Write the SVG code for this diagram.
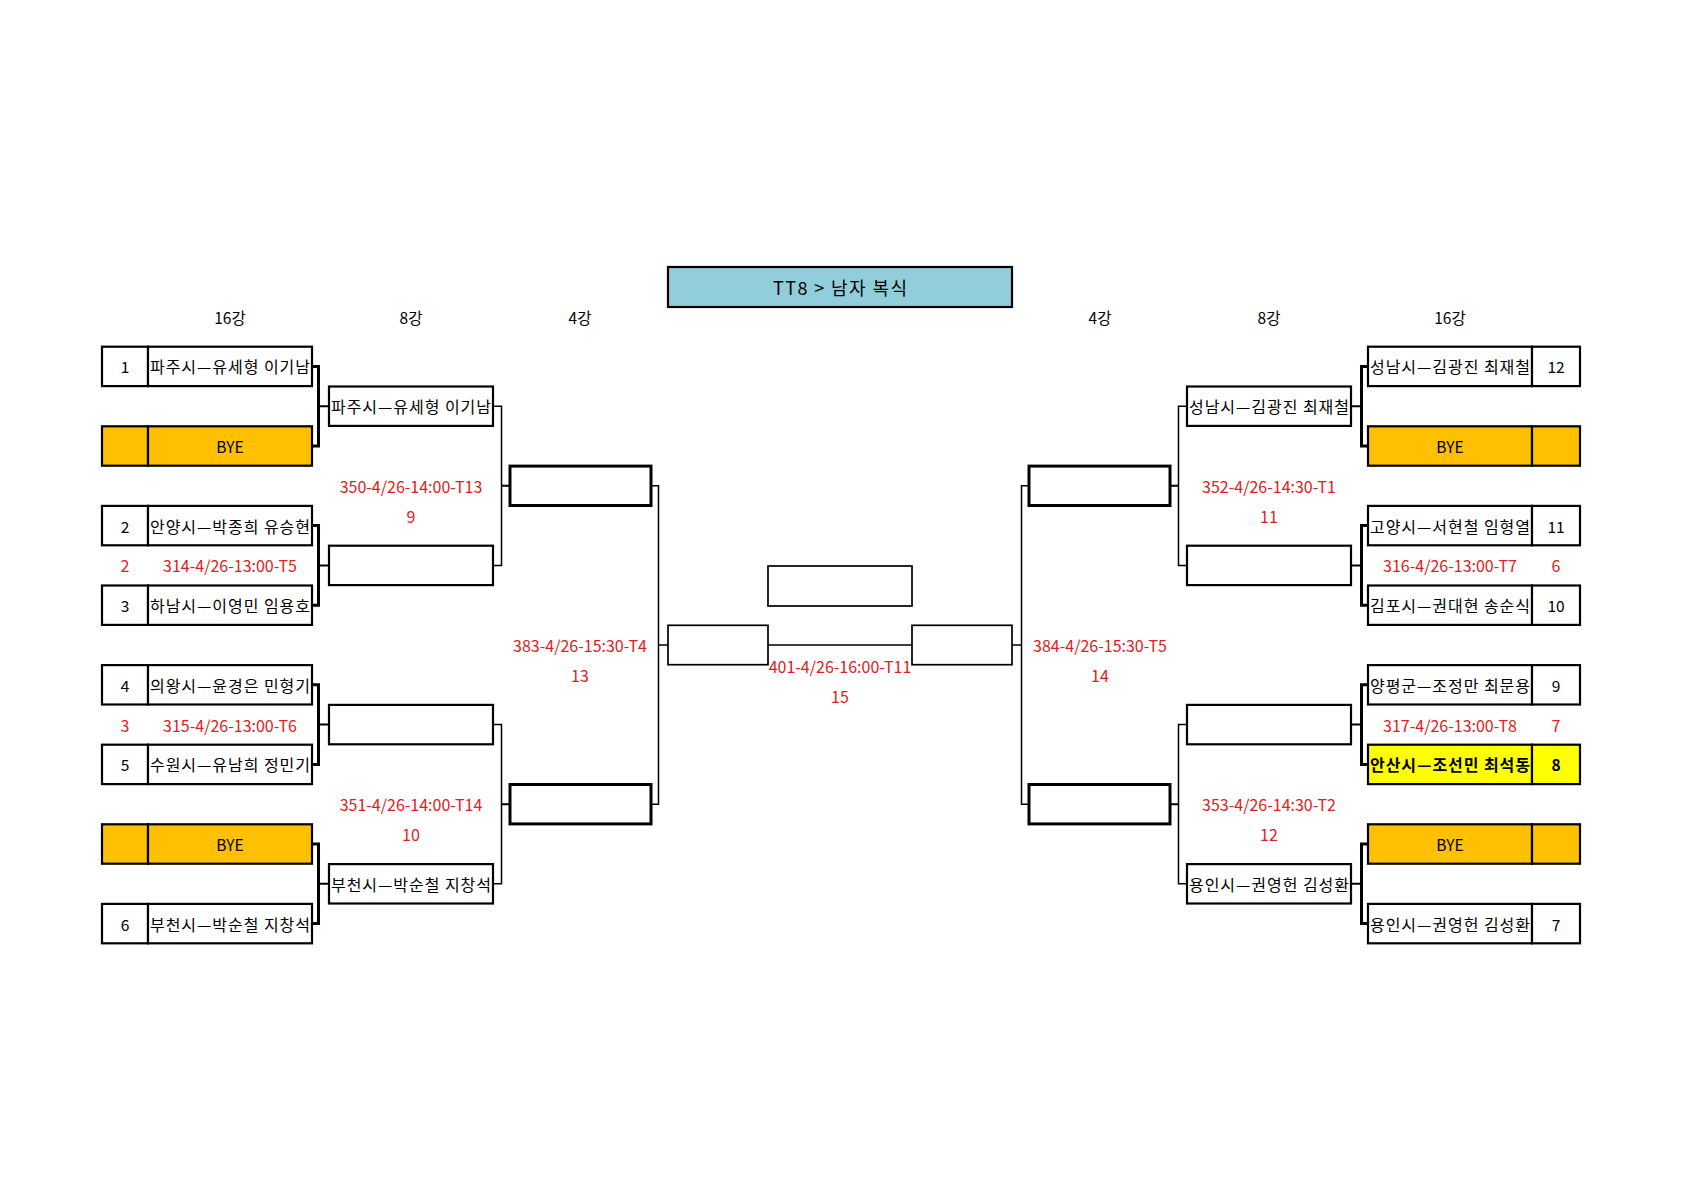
<svg xmlns="http://www.w3.org/2000/svg" width="1684" height="1190" viewBox="0 0 1684 1190">
<style>
.b{stroke:#000;stroke-width:2.2;fill:#fff}
.b3{stroke:#000;stroke-width:3;fill:#fff}
.b1{stroke:#000;stroke-width:1.7;fill:#fff}
.bye{fill:#FFC000}
.yel{fill:#FFFF00}
text{font-family:"Noto Sans CJK KR","Malgun Gothic",sans-serif;font-size:15.5px;fill:#000;text-anchor:middle;dominant-baseline:central}
.n{font-size:16px}
.r{fill:#E02020;font-size:16px}
.bold{font-weight:bold}
.c1{fill:none;stroke:#000;stroke-width:3}
.c2{fill:none;stroke:#000;stroke-width:1.5}
.c3{fill:none;stroke:#000;stroke-width:2}
</style>
<rect width="1684" height="1190" fill="#fff"/>

<g id="title">
<rect x="668" y="267" width="344" height="40" fill="#92CDDC" stroke="#000" stroke-width="2.2"/>
<text x="840" y="287" style="font-size:18px" textLength="134" lengthAdjust="spacing">TT8 &gt; 남자 복식</text>
</g>

<g id="headers">
<text x="230" y="317">16강</text>
<text x="411" y="317">8강</text>
<text x="580" y="317">4강</text>
<text x="1100" y="317">4강</text>
<text x="1269" y="317">8강</text>
<text x="1450" y="317">16강</text>
</g>

<g id="connectors">
<path class="c1" d="M312 366.4H318.5V446H312M312 525.6H318.5V605.2H312M312 684.8H318.5V764.4H312M312 844H318.5V923.6H312"/>
<path class="c3" d="M318.5 406.2H329M318.5 565.4H329M318.5 724.6H329M318.5 883.8H329"/>
<path class="c2" d="M493 406.2H501.5V565.4H493M493 724.6H501.5V883.8H493"/>
<path class="c3" d="M501.5 485.8H510M501.5 804.2H510"/>
<path class="c2" d="M651 485.8H658.5V804.2H651"/>
<path class="c2" d="M658.5 645H668M768 645H912M1012 645H1021.5"/>
<path class="c1" d="M1368 366.4H1361.5V446H1368M1368 525.6H1361.5V605.2H1368M1368 684.8H1361.5V764.4H1368M1368 844H1361.5V923.6H1368"/>
<path class="c3" d="M1361.5 406.2H1351M1361.5 565.4H1351M1361.5 724.6H1351M1361.5 883.8H1351"/>
<path class="c2" d="M1187 406.2H1178.5V565.4H1187M1187 724.6H1178.5V883.8H1187"/>
<path class="c3" d="M1178.5 485.8H1170M1178.5 804.2H1170"/>
<path class="c2" d="M1029 485.8H1021.5V804.2H1029"/>
</g>

<!-- Left round of 16 -->
<g id="L16-1"><rect class="b" x="102" y="346.7" width="46" height="39.4"/><rect class="b" x="148" y="346.7" width="164" height="39.4"/><text x="125" y="366.4">1</text><text class="n" x="230" y="366.4" textLength="160" lengthAdjust="spacing">파주시—유세형 이기남</text></g>
<g id="L16-bye1"><rect class="b bye" x="102" y="426.3" width="46" height="39.4"/><rect class="b bye" x="148" y="426.3" width="164" height="39.4"/><text x="230" y="446">BYE</text></g>
<g id="L16-2"><rect class="b" x="102" y="505.9" width="46" height="39.4"/><rect class="b" x="148" y="505.9" width="164" height="39.4"/><text x="125" y="525.6">2</text><text class="n" x="230" y="525.6" textLength="160" lengthAdjust="spacing">안양시—박종희 유승현</text></g>
<g id="L16-3"><rect class="b" x="102" y="585.5" width="46" height="39.4"/><rect class="b" x="148" y="585.5" width="164" height="39.4"/><text x="125" y="605.2">3</text><text class="n" x="230" y="605.2" textLength="160" lengthAdjust="spacing">하남시—이영민 임용호</text></g>
<g id="L16-4"><rect class="b" x="102" y="665.1" width="46" height="39.4"/><rect class="b" x="148" y="665.1" width="164" height="39.4"/><text x="125" y="684.8">4</text><text class="n" x="230" y="684.8" textLength="160" lengthAdjust="spacing">의왕시—윤경은 민형기</text></g>
<g id="L16-5"><rect class="b" x="102" y="744.7" width="46" height="39.4"/><rect class="b" x="148" y="744.7" width="164" height="39.4"/><text x="125" y="764.4">5</text><text class="n" x="230" y="764.4" textLength="160" lengthAdjust="spacing">수원시—유남희 정민기</text></g>
<g id="L16-bye2"><rect class="b bye" x="102" y="824.3" width="46" height="39.4"/><rect class="b bye" x="148" y="824.3" width="164" height="39.4"/><text x="230" y="844">BYE</text></g>
<g id="L16-6"><rect class="b" x="102" y="903.9" width="46" height="39.4"/><rect class="b" x="148" y="903.9" width="164" height="39.4"/><text x="125" y="923.6">6</text><text class="n" x="230" y="923.6" textLength="160" lengthAdjust="spacing">부천시—박순철 지창석</text></g>

<g id="L16-labels">
<text class="r" x="125" y="565.4">2</text><text class="r" x="230" y="565.4">314-4/26-13:00-T5</text>
<text class="r" x="125" y="724.6">3</text><text class="r" x="230" y="724.6">315-4/26-13:00-T6</text>
</g>

<!-- Left quarterfinal -->
<g id="L8-1"><rect class="b" x="329" y="386.5" width="164" height="39.4"/><text class="n" x="411" y="406.2" textLength="160" lengthAdjust="spacing">파주시—유세형 이기남</text></g>
<g id="L8-2"><rect class="b" x="329" y="545.7" width="164" height="39.4"/></g>
<g id="L8-3"><rect class="b" x="329" y="704.9" width="164" height="39.4"/></g>
<g id="L8-4"><rect class="b" x="329" y="864.1" width="164" height="39.4"/><text class="n" x="411" y="883.8" textLength="160" lengthAdjust="spacing">부천시—박순철 지창석</text></g>
<g id="L8-labels">
<text class="r" x="411" y="485.8">350-4/26-14:00-T13</text><text class="r" x="411" y="515.8">9</text>
<text class="r" x="411" y="804.2">351-4/26-14:00-T14</text><text class="r" x="411" y="834.2">10</text>
</g>

<!-- Left semifinal -->
<g id="L4-1"><rect class="b3" x="510" y="466.1" width="141" height="39.4"/></g>
<g id="L4-2"><rect class="b3" x="510" y="784.5" width="141" height="39.4"/></g>
<g id="L4-labels"><text class="r" x="580" y="645">383-4/26-15:30-T4</text><text class="r" x="580" y="675">13</text></g>

<!-- Final -->
<g id="F-L"><rect class="b1" x="668" y="625.3" width="100" height="39.4"/></g>
<g id="F-R"><rect class="b1" x="912" y="625.3" width="100" height="39.4"/></g>
<g id="winner"><rect class="b1" x="768" y="566" width="144" height="40"/></g>
<g id="F-labels"><text class="r" x="840" y="666">401-4/26-16:00-T11</text><text class="r" x="840" y="696">15</text></g>

<!-- Right semifinal -->
<g id="R4-1"><rect class="b3" x="1029" y="466.1" width="141" height="39.4"/></g>
<g id="R4-2"><rect class="b3" x="1029" y="784.5" width="141" height="39.4"/></g>
<g id="R4-labels"><text class="r" x="1100" y="645">384-4/26-15:30-T5</text><text class="r" x="1100" y="675">14</text></g>

<!-- Right quarterfinal -->
<g id="R8-1"><rect class="b" x="1187" y="386.5" width="164" height="39.4"/><text class="n" x="1269" y="406.2" textLength="160" lengthAdjust="spacing">성남시—김광진 최재철</text></g>
<g id="R8-2"><rect class="b" x="1187" y="545.7" width="164" height="39.4"/></g>
<g id="R8-3"><rect class="b" x="1187" y="704.9" width="164" height="39.4"/></g>
<g id="R8-4"><rect class="b" x="1187" y="864.1" width="164" height="39.4"/><text class="n" x="1269" y="883.8" textLength="160" lengthAdjust="spacing">용인시—권영헌 김성환</text></g>
<g id="R8-labels">
<text class="r" x="1269" y="485.8">352-4/26-14:30-T1</text><text class="r" x="1269" y="515.8">11</text>
<text class="r" x="1269" y="804.2">353-4/26-14:30-T2</text><text class="r" x="1269" y="834.2">12</text>
</g>

<!-- Right round of 16 -->
<g id="R16-12"><rect class="b" x="1368" y="346.7" width="164" height="39.4"/><rect class="b" x="1532" y="346.7" width="48" height="39.4"/><text class="n" x="1450" y="366.4" textLength="160" lengthAdjust="spacing">성남시—김광진 최재철</text><text x="1556" y="366.4">12</text></g>
<g id="R16-bye1"><rect class="b bye" x="1368" y="426.3" width="164" height="39.4"/><rect class="b bye" x="1532" y="426.3" width="48" height="39.4"/><text x="1450" y="446">BYE</text></g>
<g id="R16-11"><rect class="b" x="1368" y="505.9" width="164" height="39.4"/><rect class="b" x="1532" y="505.9" width="48" height="39.4"/><text class="n" x="1450" y="525.6" textLength="160" lengthAdjust="spacing">고양시—서현철 임형열</text><text x="1556" y="525.6">11</text></g>
<g id="R16-10"><rect class="b" x="1368" y="585.5" width="164" height="39.4"/><rect class="b" x="1532" y="585.5" width="48" height="39.4"/><text class="n" x="1450" y="605.2" textLength="160" lengthAdjust="spacing">김포시—권대현 송순식</text><text x="1556" y="605.2">10</text></g>
<g id="R16-9"><rect class="b" x="1368" y="665.1" width="164" height="39.4"/><rect class="b" x="1532" y="665.1" width="48" height="39.4"/><text class="n" x="1450" y="684.8" textLength="160" lengthAdjust="spacing">양평군—조정만 최문용</text><text x="1556" y="684.8">9</text></g>
<g id="R16-8"><rect class="b yel" x="1368" y="744.7" width="164" height="39.4"/><rect class="b yel" x="1532" y="744.7" width="48" height="39.4"/><text class="n bold" x="1450" y="764.4" textLength="160" lengthAdjust="spacing">안산시—조선민 최석동</text><text class="bold" x="1556" y="764.4">8</text></g>
<g id="R16-bye2"><rect class="b bye" x="1368" y="824.3" width="164" height="39.4"/><rect class="b bye" x="1532" y="824.3" width="48" height="39.4"/><text x="1450" y="844">BYE</text></g>
<g id="R16-7"><rect class="b" x="1368" y="903.9" width="164" height="39.4"/><rect class="b" x="1532" y="903.9" width="48" height="39.4"/><text class="n" x="1450" y="923.6" textLength="160" lengthAdjust="spacing">용인시—권영헌 김성환</text><text x="1556" y="923.6">7</text></g>

<g id="R16-labels">
<text class="r" x="1450" y="565.4">316-4/26-13:00-T7</text><text class="r" x="1556" y="565.4">6</text>
<text class="r" x="1450" y="724.6">317-4/26-13:00-T8</text><text class="r" x="1556" y="724.6">7</text>
</g>
</svg>
